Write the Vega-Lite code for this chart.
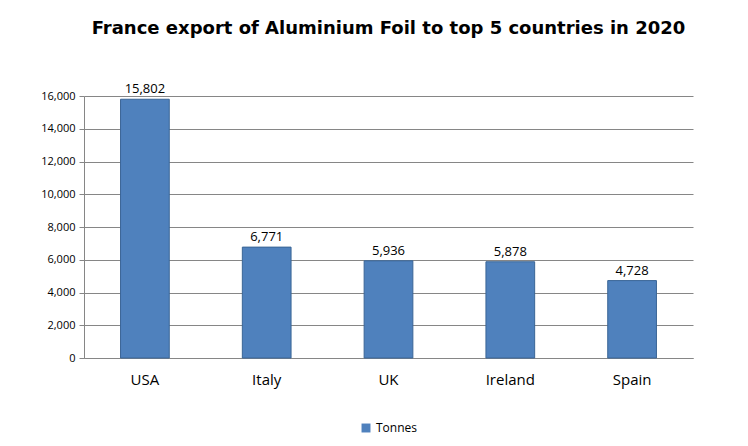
{
  "$schema": "https://vega.github.io/schema/vega-lite/v6.json",
  "width": 748,
  "height": 446,
  "autosize": {"type": "fit", "contains": "padding"},
  "padding": {"left": 40, "right": 55, "top": 22, "bottom": 12},
  "background": "white",
  "title": {
    "text": "France export of Aluminium Foil to top 5 countries in 2020",
    "font": "DejaVu Sans",
    "fontSize": 18,
    "fontWeight": "bold",
    "color": "black",
    "offset": 45
  },
  "data": {
    "values": [
      {"Country": "USA", "Tonnes": 15802},
      {"Country": "Italy", "Tonnes": 6771},
      {"Country": "UK", "Tonnes": 5936},
      {"Country": "Ireland", "Tonnes": 5878},
      {"Country": "Spain", "Tonnes": 4728}
    ]
  },
  "encoding": {
    "x": {
      "field": "Country",
      "type": "nominal",
      "sort": null,
      "scale": {"paddingInner": 0.6, "paddingOuter": 0.3},
      "axis": {
        "title": null,
        "labelAngle": 0,
        "labelFont": "Open Sans",
        "labelFontSize": 15,
        "labelColor": "black",
        "labelPadding": 14,
        "ticks": false,
        "domainColor": "#868686"
      }
    },
    "y": {
      "field": "Tonnes",
      "type": "quantitative",
      "scale": {"domain": [0, 16000]},
      "axis": {
        "title": null,
        "values": [0, 2000, 4000, 6000, 8000, 10000, 12000, 14000, 16000],
        "format": ",d",
        "labelFont": "Open Sans",
        "labelFontSize": 11,
        "labelColor": "black",
        "gridColor": "#868686",
        "domainColor": "#868686",
        "tickColor": "#868686",
        "labelPadding": 4
      }
    }
  },
  "layer": [
    {
      "mark": {"type": "bar", "stroke": "#3A6596", "strokeWidth": 1},
      "encoding": {
        "color": {
          "datum": "Tonnes",
          "type": "nominal",
          "scale": {"range": ["#4F81BD"]},
          "legend": {
            "orient": "bottom",
            "direction": "horizontal",
            "title": null,
            "labelFont": "Open Sans",
            "labelFontSize": 12,
            "labelColor": "black",
            "symbolType": "square",
            "symbolSize": 80,
            "symbolStrokeWidth": 0,
            "offset": 35
          }
        }
      }
    },
    {
      "mark": {
        "type": "text",
        "dy": -10,
        "font": "Open Sans",
        "fontSize": 13,
        "color": "black"
      },
      "encoding": {
        "text": {"field": "Tonnes", "type": "quantitative", "format": ",d"}
      }
    }
  ],
  "config": {
    "view": {"stroke": null},
    "legend": {"layout": {"bottom": {"anchor": "middle"}}}
  }
}
